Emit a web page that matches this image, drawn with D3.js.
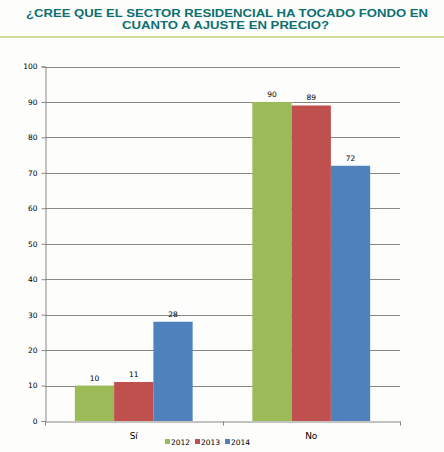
<!DOCTYPE html>
<html>
<head>
<meta charset="utf-8">
<script src="https://cdn.jsdelivr.net/npm/d3@7"></script>
<style>
  body { margin: 0; background: #fdfdfb; }
  svg { display: block; }
</style>
</head>
<body>
<div id="chart"></div>
<script>
const categories = ['Sí', 'No']
const years = ['2012', '2013', '2014']
const values2012 = [10, 90]
const values2013 = [11, 89]
const values2014 = [28, 72]
const yTicks = [0, 10, 20, 30, 40, 50, 60, 70, 80, 90, 100]

const series = [values2012, values2013, values2014]
const colors = ['#9bbb59', '#c0504d', '#4f81bd']

const w = 444
const h = 452

const svg = d3.select('#chart').append('svg')
  .attr('width', w)
  .attr('height', h)

// title
const title = svg.append('g')
  .attr('fill', '#0b7070')
  .attr('font-family', 'Liberation Sans, Arial, sans-serif')
  .attr('font-weight', 'bold')
  .attr('font-size', 11.5)
  .attr('text-anchor', 'middle')
title.append('text')
  .attr('x', 227).attr('y', 17)
  .attr('textLength', 402).attr('lengthAdjust', 'spacingAndGlyphs')
  .text('¿CREE QUE EL SECTOR RESIDENCIAL HA TOCADO FONDO EN')
title.append('text')
  .attr('x', 225.5).attr('y', 28.5)
  .attr('textLength', 207).attr('lengthAdjust', 'spacingAndGlyphs')
  .text('CUANTO A AJUSTE EN PRECIO?')

svg.append('line')
  .attr('x1', 0).attr('x2', w)
  .attr('y1', 37).attr('y2', 37)
  .attr('stroke', '#c3d17c')
  .attr('stroke-width', 1.5)

const x0 = d3.scaleBand().domain(categories).range([45, 400])
const x1 = d3.scaleBand().domain(years).range([0, x0.bandwidth()]).paddingOuter(0.76)
const y = d3.scaleLinear().domain([0, 100]).range([421, 66.5])

const font = 'Tahoma, DejaVu Sans, sans-serif'

// gridlines
svg.append('g')
  .selectAll('line')
  .data(yTicks.slice(1))
  .join('line')
  .attr('x1', 45).attr('x2', 400)
  .attr('y1', d => Math.round(y(d)) + 0.5)
  .attr('y2', d => Math.round(y(d)) + 0.5)
  .attr('stroke', '#878787')

// y axis
const yAxis = d3.axisLeft(y)
  .tickValues(yTicks)
  .tickSize(4)
  .tickPadding(4)
const $yAxis = svg.append('g')
  .attr('transform', 'translate(45.5,0)')
  .call(yAxis)
$yAxis.select('.domain').attr('stroke', '#878787')
$yAxis.selectAll('.tick line').attr('stroke', '#878787')
$yAxis.selectAll('text')
  .attr('font-family', font).attr('font-size', 7.5).attr('fill', '#000')

// bars
const groups = svg.append('g')
  .selectAll('g')
  .data(series)
  .join('g')
  .attr('fill', (d, i) => colors[i])

groups.selectAll('rect')
  .data((d, i) => d.map((v, j) => ({ v, cat: categories[j], year: years[i] })))
  .join('rect')
  .attr('x', d => x0(d.cat) + x1(d.year))
  .attr('width', x1.bandwidth())
  .attr('y', d => y(d.v))
  .attr('height', d => y(0) - y(d.v))

groups.selectAll('text')
  .data((d, i) => d.map((v, j) => ({ v, cat: categories[j], year: years[i] })))
  .join('text')
  .attr('x', d => x0(d.cat) + x1(d.year) + x1.bandwidth() / 2)
  .attr('y', d => y(d.v) - 5)
  .attr('text-anchor', 'middle')
  .attr('font-family', font).attr('font-size', 7.5).attr('fill', '#000')
  .text(d => d.v)

// x axis
const xAxis = d3.axisBottom(x0).tickSize(0).tickPadding(11)
const $xAxis = svg.append('g')
  .attr('transform', 'translate(0,421.5)')
  .call(xAxis)
$xAxis.select('.domain').attr('stroke', '#878787')
$xAxis.selectAll('text')
  .attr('font-family', font).attr('font-size', 9).attr('fill', '#000')
$xAxis.selectAll('.sep')
  .data([45, 222.5, 400])
  .join('line')
  .attr('class', 'sep')
  .attr('x1', d => Math.round(d) + 0.5).attr('x2', d => Math.round(d) + 0.5)
  .attr('y1', 0).attr('y2', 4)
  .attr('stroke', '#878787')

// legend
const legend = svg.append('g')
  .selectAll('g')
  .data(years)
  .join('g')
  .attr('transform', (d, i) => `translate(${165 + i * 30},439)`)
legend.append('rect')
  .attr('width', 5).attr('height', 5)
  .attr('fill', (d, i) => colors[i])
legend.append('text')
  .attr('x', 6).attr('y', 5.5)
  .attr('font-family', font).attr('font-size', 7.5).attr('fill', '#000')
  .text(d => d)
</script>
</body>
</html>
